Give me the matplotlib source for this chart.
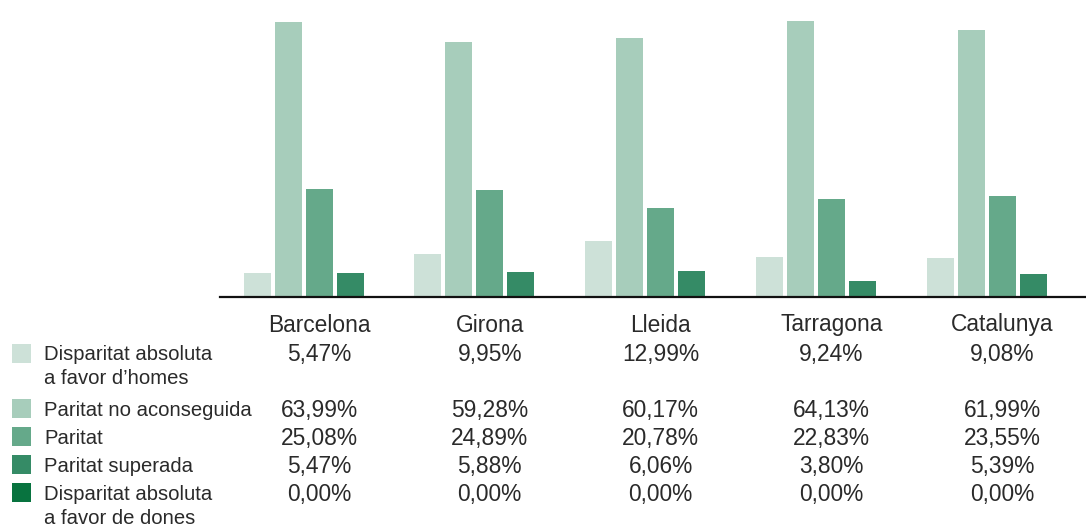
import matplotlib
matplotlib.use("Agg")
from matplotlib import pyplot as plt
from matplotlib.patches import Rectangle
import matplotlib.transforms as mtransforms
import numpy as np

regions = ["Barcelona", "Girona", "Lleida", "Tarragona", "Catalunya"]
categories = [
    "Disparitat absoluta\na favor d’homes",
    "Paritat no aconseguida",
    "Paritat",
    "Paritat superada",
    "Disparitat absoluta\na favor de dones",
]
values = [
    [5.47, 9.95, 12.99, 9.24, 9.08],
    [63.99, 59.28, 60.17, 64.13, 61.99],
    [25.08, 24.89, 20.78, 22.83, 23.55],
    [5.47, 5.88, 6.06, 3.80, 5.39],
    [0.00, 0.00, 0.00, 0.00, 0.00],
]
colors = ["#cde1d8", "#a7cdbb", "#65a98a", "#358b66", "#08733f"]

W, H = 1086, 527
fig = plt.figure(figsize=(W / 100, H / 100), dpi=100)
plt.rcParams["font.family"] = ["Liberation Sans", "DejaVu Sans"]

# axes: left 220px, right 1086px, bottom at y=297px, top at 0
ax = fig.add_axes([220 / W, 1 - 297 / H, (W - 220) / W, 297 / H])

slot = 31 / 170.75
width = 27 / 170.75
x = np.arange(len(regions))
for i, (vals, col) in enumerate(zip(values, colors)):
    ax.bar(x + (i - 2) * slot, vals, width=width, color=col, linewidth=0)

ax.set_xlim(-99 / 170.75, (W - 319) / 170.75)
ax.set_ylim(0, 297 / 4.3)
for s in ["top", "right", "left"]:
    ax.spines[s].set_visible(False)
ax.spines["bottom"].set_linewidth(1.6)
ax.spines["bottom"].set_color("#111111")
ax.set_xticks([])
ax.set_yticks([])

# table below the chart: x in data units, y in figure pixels
trans = mtransforms.blended_transform_factory(ax.transData, fig.transFigure)
fs_tab = 16.4
fs_leg = 14.6
tc = "#2a2a2a"


def fy(py):
    return 1 - py / H


for j, r in enumerate(regions):
    fig.text(j, fy(325), r, transform=trans, ha="center", va="center",
             fontsize=fs_tab, color=tc)

row_y = [355, 410, 438, 466, 495]
patch_y = [353.5, 408.5, 436.5, 464.5, 492.5]
for i, cat in enumerate(categories):
    # legend patch
    fig.patches.append(Rectangle((12 / W, fy(patch_y[i] + 9.5)), 19 / W, 19 / H,
                                 transform=fig.transFigure, color=colors[i],
                                 linewidth=0))
    for k, line in enumerate(cat.split("\n")):
        fig.text(44 / W, fy(row_y[i] + 23 * k), line, ha="left", va="center",
                 fontsize=fs_leg, color=tc)
    for j in range(len(regions)):
        txt = f"{values[i][j]:.2f}%".replace(".", ",")
        fig.text(j, fy(row_y[i]), txt, transform=trans, ha="center",
                 va="center", fontsize=fs_tab, color=tc)

fig.savefig("out.png", dpi=100)
